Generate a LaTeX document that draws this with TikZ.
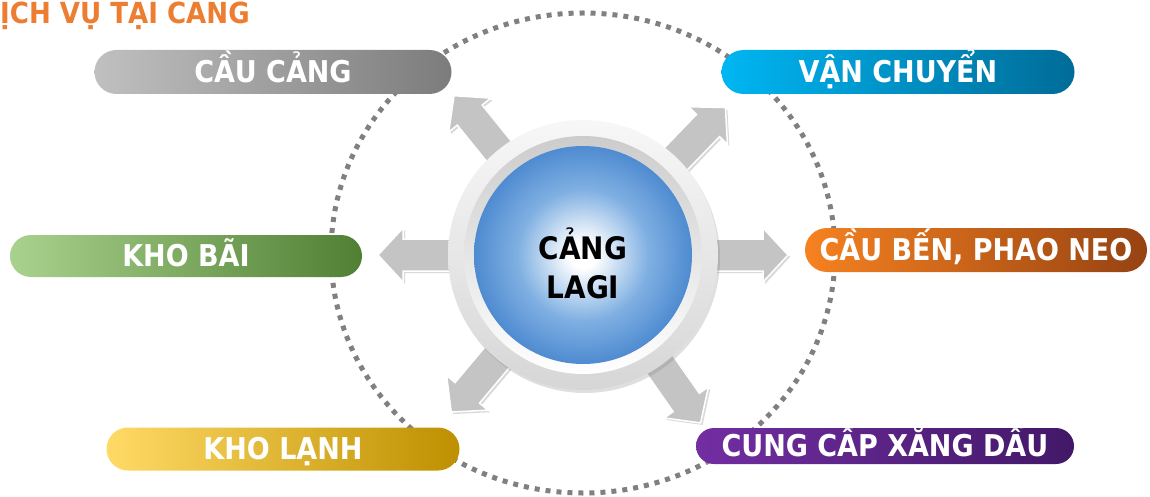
\documentclass[tikz,border=0pt]{standalone}
\usepackage{fontspec}
\setmainfont{DejaVu Sans Condensed}
\usetikzlibrary{shapes.misc,shadows}

\definecolor{titleorange}{RGB}{237,125,49}
\definecolor{dotgray}{RGB}{128,128,128}
\definecolor{arrowgray}{RGB}{196,196,196}
\definecolor{ballmid}{RGB}{128,176,226}
\definecolor{balledge}{RGB}{64,128,204}
\definecolor{balldark}{RGB}{30,84,156}
\definecolor{grayleft}{RGB}{192,192,192}
\definecolor{grayright}{RGB}{124,124,124}
\definecolor{blueleft}{RGB}{0,182,242}
\definecolor{blueright}{RGB}{0,108,152}
\definecolor{greenleft}{RGB}{170,210,142}
\definecolor{greenright}{RGB}{80,128,52}
\definecolor{orangeleft}{RGB}{246,130,32}
\definecolor{orangeright}{RGB}{150,66,18}
\definecolor{yellowleft}{RGB}{255,218,102}
\definecolor{yellowmid}{RGB}{255,192,0}
\definecolor{yellowright}{RGB}{190,144,0}
\definecolor{purpleleft}{RGB}{114,46,162}
\definecolor{purpleright}{RGB}{66,24,104}

\pgfdeclareradialshading{portball}{\pgfpoint{0bp}{0bp}}{color(0bp)=(white); color(3bp)=(white); color(15bp)=(ballmid); color(28bp)=(balledge); color(35bp)=(balldark); color(50bp)=(balldark)}

\begin{document}
\begin{tikzpicture}[x=1pt,y=1pt,
        pill/.style={rounded rectangle,inner sep=0pt,minimum height=44pt,text=white,
          font=\fontsize{30}{34}\selectfont\bfseries,text height=21.5pt,text depth=0pt},
        servicering/.style={dotgray,line width=5pt,dash pattern=on 5pt off 6pt},
        blockarrow/.style={fill=arrowgray,draw=white,line width=1.5pt,
          drop shadow={opacity=0.3,shadow xshift=2pt,shadow yshift=-2pt}},
      ]
      \useasboundingbox (0,0) rectangle (1150,496);
      \coordinate (port) at (583,241);
%
      \node[anchor=base west,inner sep=0pt,text=titleorange,font=\fontsize{29}{33}\selectfont\bfseries] (title) at (0,472) {ỊCH VỤ TẠI CANG};
%
      \draw[servicering] (583,243) ellipse [x radius=252,y radius=240];
%
      \foreach \ang in {129,46,180,0,230,305}{
        \begin{scope}[shift={(port)},rotate=\ang]
          \draw[blockarrow] (100,-16) -- (180,-16) -- (180,-27) -- (205,0) -- (180,27) -- (180,16) -- (100,16) -- cycle;
        \end{scope}
      }
%
      \path[top color=gray!6,bottom color=gray!32,drop shadow={opacity=0.25,shadow xshift=2pt,shadow yshift=-3pt}] (port) circle (135);
      \shade[top color=gray!40,bottom color=white] (port) circle (119);
      \shade[shading=portball] (port) circle (109);
      \node[align=center,inner sep=0pt,font=\fontsize{31}{39}\selectfont\bfseries] (lagi) at (583,233) {CẢNG\\LAGI};
%
      \node[pill,minimum width=357pt,left color=grayleft,right color=grayright] (caucang) at (273,424) {CẦU CẢNG};
      \node[pill,minimum width=353pt,left color=blueleft,right color=blueright] (vanchuyen) at (898,424) {VẬN CHUYỂN};
      \node[pill,minimum width=352pt,minimum height=42pt,left color=greenleft,right color=greenright] (khobai) at (186,240) {KHO BÃI};
      \node[pill,minimum width=342pt,left color=orangeleft,right color=orangeright] (cauben) at (976,246) {CẦU BẾN, PHAO NEO};
      \node[pill,minimum width=353pt,minimum height=43pt,left color=yellowleft,middle color=yellowmid,right color=yellowright] (kholanh) at (283,47) {KHO LẠNH};
      \node[pill,minimum width=378pt,minimum height=36pt,left color=purpleleft,right color=purpleright] (xangdau) at (885,50) {CUNG CẤP XĂNG DẦU};
    \end{tikzpicture}
\end{document}
